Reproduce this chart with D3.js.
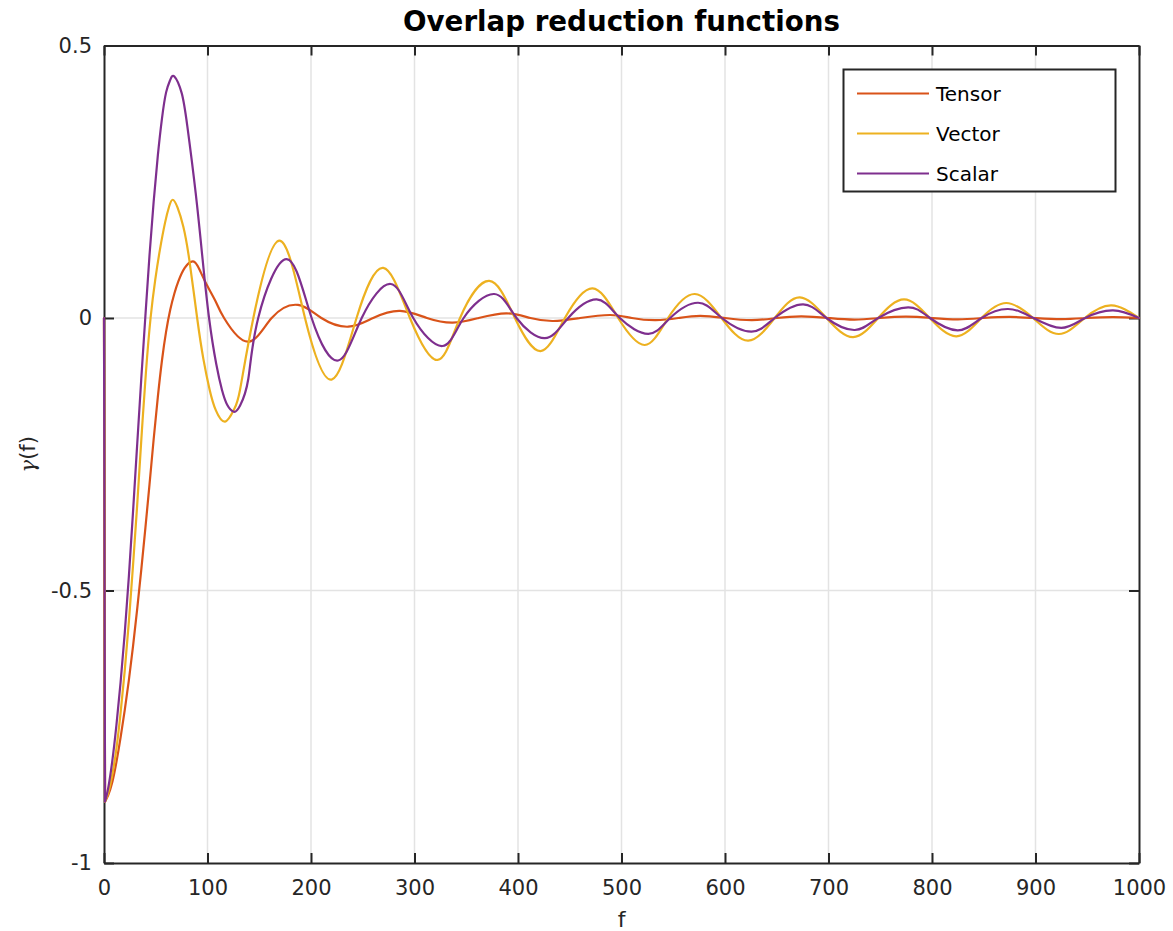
<!DOCTYPE html>
<html><head><meta charset="utf-8">
<script src="https://cdn.jsdelivr.net/npm/d3@7"></script>
<style>body{margin:0;background:#fff} svg{display:block}</style>
</head><body>
<svg id="chart" width="1173" height="931"></svg>
<script>
// ---- data ----
const seriesNames = ["Tensor", "Vector", "Scalar"];
const seriesColors = ["#D95319", "#EDB120", "#7E2F8E"];

const tensorFreq = [0,1,4,8,12,16,20,24,28,32,36,40,44,48,52,56,60,64,68,72,78,86,92,99,108,116,139,162,187.5,210,236,260,286,312,337,362,389,412,434,460,489,510,533,555,576,600,626,650,674,700,725,750,775,800,825,850,875,900,925,950,975,1000];
const tensorGamma = [0,-0.887,-0.876,-0.852,-0.815,-0.77,-0.72,-0.665,-0.603,-0.535,-0.462,-0.385,-0.305,-0.222,-0.145,-0.078,-0.025,0.015,0.045,0.068,0.092,0.104,0.09,0.062,0.03,0,-0.0435,0,0.024,0,-0.016,0,0.013,0,-0.0086,0,0.0086,0,-0.0055,0,0.0055,0,-0.004,0,0.004,0,-0.004,0,0.003,0,-0.003,0,0.0025,0,-0.0025,0,0.002,0,-0.002,0,0.0015,0];

const vectorFreq = [0,1,4,8,12,16,20,24,28,32,36,40.5,45,49.5,54,59,63,66.4,71,76.6,82.4,90,96,102,108,117,125.6,131.4,144.3,169.4,194.2,219.9,244,269.8,295.6,322.3,344,372.2,397,421.8,445.3,472,496.8,522.5,545,570.8,596.6,622.4,648,672.3,698,723.8,748,773,797.8,823.6,847.8,871.9,897.6,922.7,947.6,973.3,1000];
const vectorGamma = [0,-0.887,-0.872,-0.838,-0.79,-0.725,-0.648,-0.558,-0.455,-0.345,-0.225,-0.1,0,0.07,0.125,0.175,0.205,0.217,0.203,0.168,0.107,0,-0.075,-0.131,-0.169,-0.19,-0.168,-0.132,0,0.142,0,-0.113,0,0.092,0,-0.077,0,0.068,0,-0.0606,0,0.0545,0,-0.0495,0,0.044,0,-0.0416,0,0.038,0,-0.035,0,0.034,0,-0.0336,0,0.0275,0,-0.0294,0,0.0232,0];

const scalarFreq = [0,1,4,8,12,16,20,24,28,32,36,40,44,48,52,56,60,64,68,75,80.5,88.6,95.3,101.5,108.5,114,119,125.5,131.4,139.4,149,176.4,200.6,226.3,249,277,298.8,327,347.5,377,398.6,426,448.5,476,498.4,526,547,574,597,625.6,648,675.5,698,725.4,748,777,798,825,848,873.5,898,925,948,975,1000];
const scalarGamma = [0,-0.887,-0.863,-0.813,-0.747,-0.669,-0.579,-0.475,-0.357,-0.234,-0.112,0.004,0.116,0.214,0.298,0.366,0.414,0.437,0.443,0.413,0.352,0.229,0.107,0,-0.085,-0.132,-0.159,-0.172,-0.161,-0.112,0,0.108,0,-0.078,0,0.0624,0,-0.0514,0,0.044,0,-0.037,0,0.034,0,-0.029,0,0.028,0,-0.025,0,0.025,0,-0.022,0,0.0196,0,-0.0226,0,0.0165,0,-0.0183,0,0.014,0];

const xTicks = [0,100,200,300,400,500,600,700,800,900,1000];
const xTickLabels = ["0","100","200","300","400","500","600","700","800","900","1000"];
const yTicks = [-1,-0.5,0,0.5];
const yTickLabels = ["-1","-0.5","0","0.5"];

const titleText = "Overlap reduction functions";
const xLabelText = "f";

// ---- drawing ----
const svg = d3.select("#chart");
const pLeft = 104, pRight = 1139, pTop = 45.5, pBottom = 863;
const x = d3.scaleLinear().domain([0, 1000]).range([pLeft, pRight]);
const y = d3.scaleLinear().domain([-1, 0.5]).range([pBottom, pTop]);
const axisColor = "#262626";
const font = "'DejaVu Sans', sans-serif";

svg.append("rect").attr("x",0).attr("y",0).attr("width",1173).attr("height",931).attr("fill","#fff");

// grid
const grid = svg.append("g").attr("stroke","#e3e3e3").attr("stroke-width",1.5);
grid.selectAll("line.gx").data(xTicks.filter(d => d > 0 && d < 1000)).join("line")
  .attr("class","gx")
  .attr("x1", d => x(d)).attr("x2", d => x(d)).attr("y1", pTop).attr("y2", pBottom);
grid.selectAll("line.gy").data(yTicks.filter(d => d > -1 && d < 0.5)).join("line")
  .attr("class","gy")
  .attr("y1", d => y(d)).attr("y2", d => y(d)).attr("x1", pLeft).attr("x2", pRight);

function styleAxis(g) {
  g.select(".domain").attr("stroke", axisColor).attr("stroke-width", 2);
  g.selectAll(".tick line").attr("stroke", axisColor).attr("stroke-width", 2);
  g.selectAll(".tick text").attr("fill", axisColor).attr("font-family", font).attr("font-size", 21);
}

svg.append("g").attr("transform", `translate(0,${pBottom})`)
  .call(d3.axisBottom(x).tickValues(xTicks).tickFormat((d,i) => xTickLabels[i]).tickSizeInner(-10).tickSizeOuter(0).tickPadding(17))
  .call(styleAxis);
svg.append("g").attr("transform", `translate(0,${pTop})`)
  .call(d3.axisTop(x).tickValues(xTicks).tickFormat("").tickSizeInner(-10).tickSizeOuter(0))
  .call(styleAxis);
svg.append("g").attr("transform", `translate(${pLeft},0)`)
  .call(d3.axisLeft(y).tickValues(yTicks).tickFormat((d,i) => yTickLabels[i]).tickSizeInner(-10).tickSizeOuter(0).tickPadding(12))
  .call(styleAxis);
svg.append("g").attr("transform", `translate(${pRight},0)`)
  .call(d3.axisRight(y).tickValues(yTicks).tickFormat("").tickSizeInner(-10).tickSizeOuter(0))
  .call(styleAxis);

// series
const seriesData = [
  d3.zip(tensorFreq, tensorGamma),
  d3.zip(vectorFreq, vectorGamma),
  d3.zip(scalarFreq, scalarGamma)
];
const lineStraight = d3.line().x(d => x(d[0])).y(d => y(d[1]));
const lineSmooth = d3.line().x(d => x(d[0])).y(d => y(d[1])).curve(d3.curveNatural);
seriesData.forEach((data, i) => {
  const g = svg.append("g").attr("fill","none").attr("stroke", seriesColors[i])
    .attr("stroke-width", 2.2).attr("stroke-linejoin","round").attr("stroke-linecap","round");
  g.append("path").attr("d", lineStraight(data.slice(0, 2)));
  g.append("path").attr("d", lineSmooth(data.slice(1)));
});

// title and labels
svg.append("text").attr("x", (pLeft + pRight) / 2).attr("y", 31).attr("text-anchor","middle")
  .attr("font-family", font).attr("font-weight","bold").attr("font-size", 27.7).attr("fill","#000")
  .text(titleText);
svg.append("text").attr("x", (pLeft + pRight) / 2).attr("y", 927).attr("text-anchor","middle")
  .attr("font-family", font).attr("font-size", 22).attr("fill", axisColor).text(xLabelText);
const yl = svg.append("text").attr("transform", `translate(35,${(pTop + pBottom) / 2}) rotate(-90)`)
  .attr("text-anchor","middle").attr("font-family", font).attr("font-size", 21).attr("fill", axisColor);
yl.append("tspan").attr("font-family","'DejaVu Serif', serif").attr("font-style","italic").text("γ");
yl.append("tspan").text("(f)");

// legend
const lg = svg.append("g");
lg.append("rect").attr("x", 843.5).attr("y", 69.5).attr("width", 272).attr("height", 122)
  .attr("fill","#fff").attr("stroke", axisColor).attr("stroke-width", 2);
seriesNames.forEach((name, i) => {
  const cy = 93.5 + i * 40;
  lg.append("line").attr("x1", 857).attr("x2", 929).attr("y1", cy).attr("y2", cy)
    .attr("stroke", seriesColors[i]).attr("stroke-width", 2.2);
  lg.append("text").attr("x", 936).attr("y", cy + 7.5).attr("font-family", font).attr("font-size", 20)
    .attr("fill","#000").text(name);
});
</script>
</body></html>
